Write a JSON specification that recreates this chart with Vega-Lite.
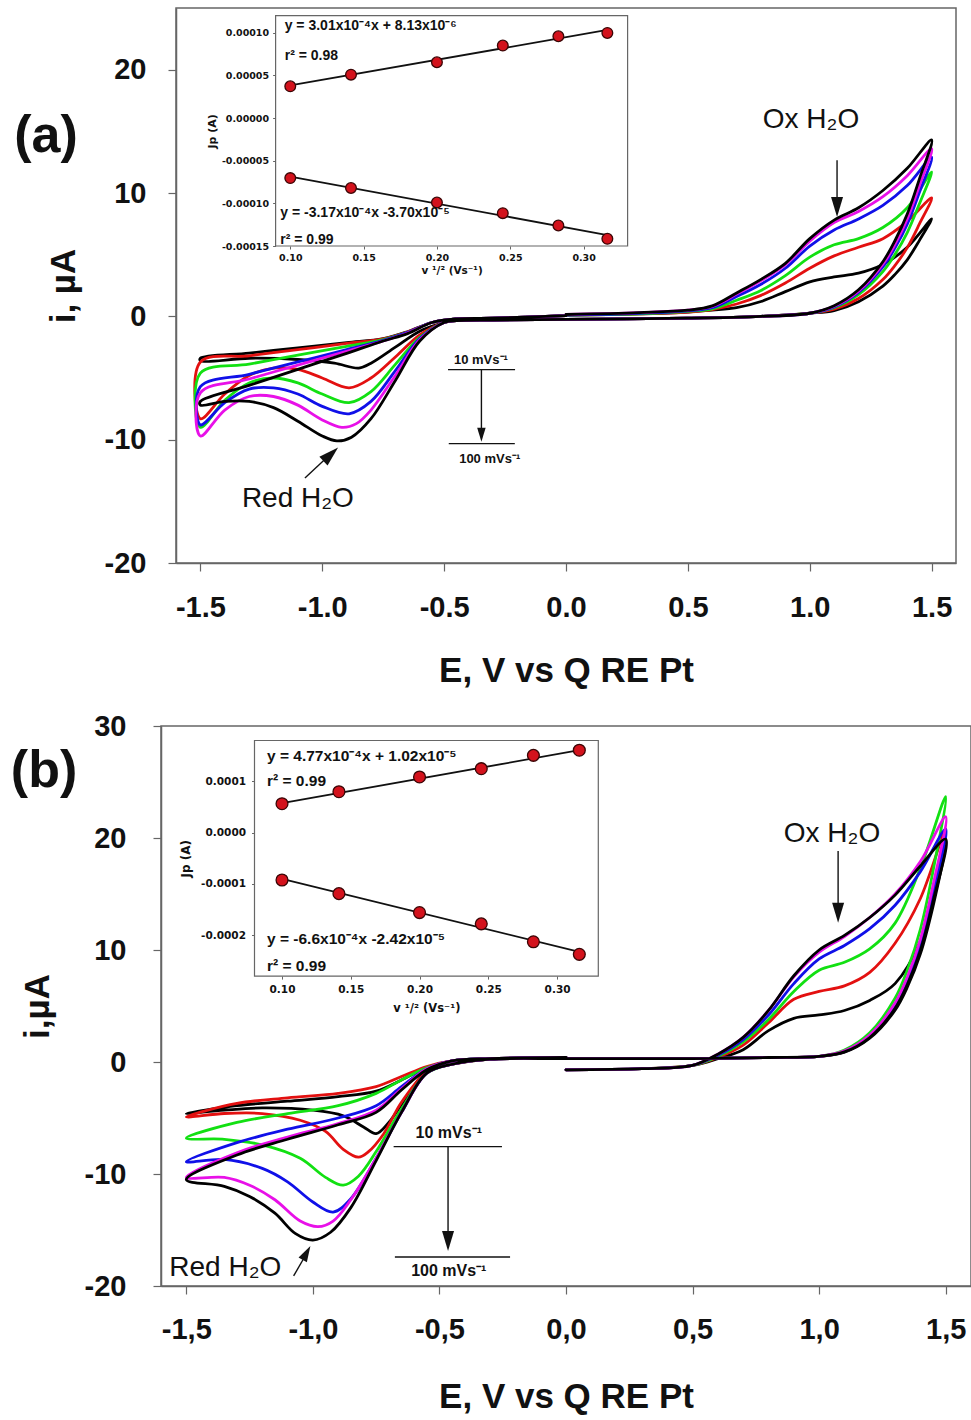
{
"$schema": "https://vega.github.io/schema/vega-lite/v6.json",
"background": "white",
"padding": {"left": 10, "top": 7, "right": 0, "bottom": 0},
"spacing": 163,
"center": true,
"bounds": "flush",
"config": {
  "view": {"stroke": "#666", "strokeWidth": 1.5},
  "axis": {"grid": false, "domainColor": "#666", "tickColor": "#666", "labelColor": "#111", "titleColor": "#111", "labelFlush": false, "labelOverlap": false, "labelBound": false}
},
"datasets": {
"cvA": [
{"s":"10","E":0,"i":0.1},{"s":"10","E":0.3,"i":0.2},{"s":"10","E":0.5,"i":0.35},{"s":"10","E":0.6,"i":0.5},{"s":"10","E":0.7,"i":0.7},{"s":"10","E":0.8,"i":1.2},{"s":"10","E":0.9,"i":2.0},{"s":"10","E":1.0,"i":2.8},{"s":"10","E":1.1,"i":3.2},{"s":"10","E":1.2,"i":3.5},{"s":"10","E":1.3,"i":4.2},{"s":"10","E":1.4,"i":5.6},{"s":"10","E":1.5,"i":7.9},
{"s":"10","E":1.45,"i":6.16},{"s":"10","E":1.4,"i":4.58},{"s":"10","E":1.35,"i":3.4},{"s":"10","E":1.3,"i":2.45},{"s":"10","E":1.2,"i":1.19},{"s":"10","E":1.1,"i":0.47},{"s":"10","E":1.0,"i":0.25},{"s":"10","E":0.8,"i":0},{"s":"10","E":0.5,"i":-0.15},{"s":"10","E":0,"i":-0.25},{"s":"10","E":-0.3,"i":-0.3},{"s":"10","E":-0.45,"i":-0.35},
{"s":"10","E":-0.5,"i":-0.5},{"s":"10","E":-0.6,"i":-1.2},{"s":"10","E":-0.7,"i":-2.5},{"s":"10","E":-0.8,"i":-3.8},{"s":"10","E":-0.85,"i":-4.2},{"s":"10","E":-0.95,"i":-3.8},{"s":"10","E":-1.1,"i":-3.5},{"s":"10","E":-1.3,"i":-3.4},{"s":"10","E":-1.5,"i":-3.6},
{"s":"10","E":-1.5,"i":-3.4},{"s":"10","E":-1.3,"i":-2.98},{"s":"10","E":-1.1,"i":-2.55},{"s":"10","E":-0.9,"i":-2.13},{"s":"10","E":-0.75,"i":-1.81},{"s":"10","E":-0.65,"i":-1.25},{"s":"10","E":-0.55,"i":-0.5},{"s":"10","E":-0.45,"i":-0.2},{"s":"10","E":-0.3,"i":-0.15},{"s":"10","E":0,"i":0.05},
{"s":"20","E":0,"i":0.1},{"s":"20","E":0.3,"i":0.2},{"s":"20","E":0.5,"i":0.35},{"s":"20","E":0.6,"i":0.55},{"s":"20","E":0.7,"i":1.0},{"s":"20","E":0.8,"i":1.7},{"s":"20","E":0.9,"i":2.7},{"s":"20","E":1.0,"i":3.9},{"s":"20","E":1.1,"i":4.9},{"s":"20","E":1.2,"i":5.6},{"s":"20","E":1.3,"i":6.3},{"s":"20","E":1.4,"i":7.7},{"s":"20","E":1.5,"i":9.6},
{"s":"20","E":1.45,"i":7.49},{"s":"20","E":1.4,"i":5.57},{"s":"20","E":1.35,"i":4.13},{"s":"20","E":1.3,"i":2.98},{"s":"20","E":1.2,"i":1.44},{"s":"20","E":1.1,"i":0.58},{"s":"20","E":1.0,"i":0.25},{"s":"20","E":0.8,"i":0},{"s":"20","E":0.5,"i":-0.15},{"s":"20","E":0,"i":-0.25},{"s":"20","E":-0.3,"i":-0.3},{"s":"20","E":-0.45,"i":-0.35},
{"s":"20","E":-0.5,"i":-0.5},{"s":"20","E":-0.6,"i":-1.5},{"s":"20","E":-0.7,"i":-3.3},{"s":"20","E":-0.8,"i":-5.0},{"s":"20","E":-0.89,"i":-5.8},{"s":"20","E":-1.0,"i":-5.0},{"s":"20","E":-1.1,"i":-4.3},{"s":"20","E":-1.2,"i":-4.2},{"s":"20","E":-1.3,"i":-4.8},{"s":"20","E":-1.4,"i":-6.3},{"s":"20","E":-1.5,"i":-8.3},
{"s":"20","E":-1.5,"i":-3.7},{"s":"20","E":-1.3,"i":-3.2},{"s":"20","E":-1.1,"i":-2.7},{"s":"20","E":-0.9,"i":-2.2},{"s":"20","E":-0.75,"i":-1.83},{"s":"20","E":-0.65,"i":-1.25},{"s":"20","E":-0.55,"i":-0.5},{"s":"20","E":-0.45,"i":-0.2},{"s":"20","E":-0.3,"i":-0.15},{"s":"20","E":0,"i":0.05},
{"s":"40","E":0,"i":0.1},{"s":"40","E":0.3,"i":0.2},{"s":"40","E":0.5,"i":0.4},{"s":"40","E":0.6,"i":0.6},{"s":"40","E":0.7,"i":1.3},{"s":"40","E":0.8,"i":2.1},{"s":"40","E":0.9,"i":3.3},{"s":"40","E":1.0,"i":4.8},{"s":"40","E":1.1,"i":5.8},{"s":"40","E":1.2,"i":6.3},{"s":"40","E":1.3,"i":7.2},{"s":"40","E":1.4,"i":8.8},{"s":"40","E":1.5,"i":11.7},
{"s":"40","E":1.45,"i":9.13},{"s":"40","E":1.4,"i":6.79},{"s":"40","E":1.35,"i":5.03},{"s":"40","E":1.3,"i":3.63},{"s":"40","E":1.2,"i":1.76},{"s":"40","E":1.1,"i":0.7},{"s":"40","E":1.0,"i":0.25},{"s":"40","E":0.8,"i":0},{"s":"40","E":0.5,"i":-0.15},{"s":"40","E":0,"i":-0.25},{"s":"40","E":-0.3,"i":-0.3},{"s":"40","E":-0.45,"i":-0.35},
{"s":"40","E":-0.5,"i":-0.5},{"s":"40","E":-0.6,"i":-1.7},{"s":"40","E":-0.7,"i":-3.9},{"s":"40","E":-0.8,"i":-6.1},{"s":"40","E":-0.89,"i":-7.0},{"s":"40","E":-1.0,"i":-6.3},{"s":"40","E":-1.1,"i":-5.4},{"s":"40","E":-1.2,"i":-5.0},{"s":"40","E":-1.3,"i":-5.4},{"s":"40","E":-1.4,"i":-6.8},{"s":"40","E":-1.5,"i":-9.0},
{"s":"40","E":-1.5,"i":-4.6},{"s":"40","E":-1.3,"i":-3.88},{"s":"40","E":-1.1,"i":-3.15},{"s":"40","E":-0.9,"i":-2.43},{"s":"40","E":-0.75,"i":-1.88},{"s":"40","E":-0.65,"i":-1.3},{"s":"40","E":-0.55,"i":-0.5},{"s":"40","E":-0.45,"i":-0.2},{"s":"40","E":-0.3,"i":-0.15},{"s":"40","E":0,"i":0.05},
{"s":"60","E":0,"i":0.1},{"s":"60","E":0.3,"i":0.25},{"s":"60","E":0.5,"i":0.45},{"s":"60","E":0.6,"i":0.7},{"s":"60","E":0.7,"i":1.6},{"s":"60","E":0.8,"i":2.6},{"s":"60","E":0.9,"i":3.9},{"s":"60","E":1.0,"i":5.7},{"s":"60","E":1.1,"i":7.0},{"s":"60","E":1.2,"i":7.9},{"s":"60","E":1.3,"i":9.0},{"s":"60","E":1.4,"i":10.6},{"s":"60","E":1.5,"i":12.9},
{"s":"60","E":1.45,"i":10.06},{"s":"60","E":1.4,"i":7.48},{"s":"60","E":1.35,"i":5.55},{"s":"60","E":1.3,"i":4.0},{"s":"60","E":1.2,"i":1.94},{"s":"60","E":1.1,"i":0.77},{"s":"60","E":1.0,"i":0.25},{"s":"60","E":0.8,"i":0},{"s":"60","E":0.5,"i":-0.15},{"s":"60","E":0,"i":-0.25},{"s":"60","E":-0.3,"i":-0.3},{"s":"60","E":-0.45,"i":-0.35},
{"s":"60","E":-0.5,"i":-0.5},{"s":"60","E":-0.6,"i":-1.8},{"s":"60","E":-0.7,"i":-4.4},{"s":"60","E":-0.8,"i":-6.9},{"s":"60","E":-0.89,"i":-7.9},{"s":"60","E":-1.0,"i":-7.3},{"s":"60","E":-1.1,"i":-6.3},{"s":"60","E":-1.2,"i":-5.8},{"s":"60","E":-1.3,"i":-5.9},{"s":"60","E":-1.4,"i":-7.0},{"s":"60","E":-1.5,"i":-8.8},
{"s":"60","E":-1.5,"i":-5.7},{"s":"60","E":-1.3,"i":-4.7},{"s":"60","E":-1.1,"i":-3.7},{"s":"60","E":-0.9,"i":-2.7},{"s":"60","E":-0.75,"i":-1.95},{"s":"60","E":-0.65,"i":-1.3},{"s":"60","E":-0.55,"i":-0.5},{"s":"60","E":-0.45,"i":-0.2},{"s":"60","E":-0.3,"i":-0.15},{"s":"60","E":0,"i":0.05},
{"s":"80","E":0,"i":0.15},{"s":"80","E":0.3,"i":0.3},{"s":"80","E":0.5,"i":0.5},{"s":"80","E":0.6,"i":0.8},{"s":"80","E":0.7,"i":1.8},{"s":"80","E":0.8,"i":2.9},{"s":"80","E":0.9,"i":4.2},{"s":"80","E":1.0,"i":6.1},{"s":"80","E":1.1,"i":7.6},{"s":"80","E":1.2,"i":8.5},{"s":"80","E":1.3,"i":9.7},{"s":"80","E":1.4,"i":11.4},{"s":"80","E":1.5,"i":13.6},
{"s":"80","E":1.45,"i":10.61},{"s":"80","E":1.4,"i":7.89},{"s":"80","E":1.35,"i":5.85},{"s":"80","E":1.3,"i":4.22},{"s":"80","E":1.2,"i":2.04},{"s":"80","E":1.1,"i":0.82},{"s":"80","E":1.0,"i":0.25},{"s":"80","E":0.8,"i":0},{"s":"80","E":0.5,"i":-0.15},{"s":"80","E":0,"i":-0.25},{"s":"80","E":-0.3,"i":-0.3},{"s":"80","E":-0.45,"i":-0.35},
{"s":"80","E":-0.5,"i":-0.5},{"s":"80","E":-0.6,"i":-1.9},{"s":"80","E":-0.7,"i":-4.8},{"s":"80","E":-0.8,"i":-7.6},{"s":"80","E":-0.86,"i":-8.7},{"s":"80","E":-0.92,"i":-9.0},{"s":"80","E":-1.0,"i":-8.4},{"s":"80","E":-1.1,"i":-7.2},{"s":"80","E":-1.2,"i":-6.5},{"s":"80","E":-1.3,"i":-6.5},{"s":"80","E":-1.4,"i":-7.6},{"s":"80","E":-1.5,"i":-9.7},
{"s":"80","E":-1.5,"i":-6.2},{"s":"80","E":-1.3,"i":-5.08},{"s":"80","E":-1.1,"i":-3.95},{"s":"80","E":-0.9,"i":-2.83},{"s":"80","E":-0.75,"i":-2.0},{"s":"80","E":-0.65,"i":-1.35},{"s":"80","E":-0.55,"i":-0.5},{"s":"80","E":-0.45,"i":-0.2},{"s":"80","E":-0.3,"i":-0.15},{"s":"80","E":0,"i":0.05},
{"s":"100","E":0,"i":0.15},{"s":"100","E":0.3,"i":0.3},{"s":"100","E":0.5,"i":0.5},{"s":"100","E":0.6,"i":0.85},{"s":"100","E":0.7,"i":1.9},{"s":"100","E":0.8,"i":3.0},{"s":"100","E":0.9,"i":4.3},{"s":"100","E":1.0,"i":6.3},{"s":"100","E":1.1,"i":7.8},{"s":"100","E":1.2,"i":8.8},{"s":"100","E":1.3,"i":10.2},{"s":"100","E":1.4,"i":12.0},{"s":"100","E":1.5,"i":14.3},
{"s":"100","E":1.45,"i":11.15},{"s":"100","E":1.4,"i":8.29},{"s":"100","E":1.35,"i":6.15},{"s":"100","E":1.3,"i":4.43},{"s":"100","E":1.2,"i":2.15},{"s":"100","E":1.1,"i":0.86},{"s":"100","E":1.0,"i":0.25},{"s":"100","E":0.8,"i":0},{"s":"100","E":0.5,"i":-0.15},{"s":"100","E":0,"i":-0.25},{"s":"100","E":-0.3,"i":-0.3},{"s":"100","E":-0.45,"i":-0.35},
{"s":"100","E":-0.5,"i":-0.5},{"s":"100","E":-0.6,"i":-2.0},{"s":"100","E":-0.7,"i":-5.2},{"s":"100","E":-0.8,"i":-8.3},{"s":"100","E":-0.88,"i":-9.8},{"s":"100","E":-0.94,"i":-10.1},{"s":"100","E":-1.0,"i":-9.7},{"s":"100","E":-1.1,"i":-8.5},{"s":"100","E":-1.2,"i":-7.4},{"s":"100","E":-1.3,"i":-6.9},{"s":"100","E":-1.4,"i":-6.9},{"s":"100","E":-1.5,"i":-7.2},
{"s":"100","E":-1.5,"i":-6.9},{"s":"100","E":-1.3,"i":-5.6},{"s":"100","E":-1.1,"i":-4.3},{"s":"100","E":-0.9,"i":-3.0},{"s":"100","E":-0.75,"i":-2.0},{"s":"100","E":-0.65,"i":-1.4},{"s":"100","E":-0.55,"i":-0.5},{"s":"100","E":-0.45,"i":-0.2},{"s":"100","E":-0.3,"i":-0.15},{"s":"100","E":0,"i":0.05}
],
"cvB": [
{"s":"10","E":0,"i":-0.7},{"s":"10","E":0.3,"i":-0.6},{"s":"10","E":0.5,"i":-0.3},{"s":"10","E":0.6,"i":0.3},{"s":"10","E":0.7,"i":1.1},{"s":"10","E":0.8,"i":2.8},{"s":"10","E":0.9,"i":3.9},{"s":"10","E":1.0,"i":4.2},{"s":"10","E":1.1,"i":4.6},{"s":"10","E":1.2,"i":5.5},{"s":"10","E":1.3,"i":7.0},{"s":"10","E":1.4,"i":10.8},{"s":"10","E":1.5,"i":19.3},
{"s":"10","E":1.45,"i":13.9},{"s":"10","E":1.4,"i":9.65},{"s":"10","E":1.35,"i":6.76},{"s":"10","E":1.3,"i":4.63},{"s":"10","E":1.2,"i":2.12},{"s":"10","E":1.1,"i":0.87},{"s":"10","E":1.0,"i":0.5},{"s":"10","E":0.8,"i":0.4},{"s":"10","E":0.5,"i":0.3},{"s":"10","E":0,"i":0.3},{"s":"10","E":-0.3,"i":0.25},{"s":"10","E":-0.45,"i":-0.2},
{"s":"10","E":-0.55,"i":-0.8},{"s":"10","E":-0.62,"i":-2.8},{"s":"10","E":-0.7,"i":-5.4},{"s":"10","E":-0.75,"i":-6.4},{"s":"10","E":-0.8,"i":-5.8},{"s":"10","E":-0.88,"i":-4.8},{"s":"10","E":-1.0,"i":-4.3},{"s":"10","E":-1.2,"i":-4.1},{"s":"10","E":-1.35,"i":-4.3},{"s":"10","E":-1.5,"i":-4.6},
{"s":"10","E":-1.3,"i":-3.9},{"s":"10","E":-1.1,"i":-3.5},{"s":"10","E":-0.9,"i":-3.1},{"s":"10","E":-0.75,"i":-2.6},{"s":"10","E":-0.65,"i":-1.6},{"s":"10","E":-0.55,"i":-0.5},{"s":"10","E":-0.45,"i":0.1},{"s":"10","E":-0.3,"i":0.3},{"s":"10","E":0,"i":0.4},
{"s":"20","E":0,"i":-0.7},{"s":"20","E":0.3,"i":-0.6},{"s":"20","E":0.5,"i":-0.3},{"s":"20","E":0.6,"i":0.4},{"s":"20","E":0.7,"i":1.5},{"s":"20","E":0.8,"i":3.5},{"s":"20","E":0.9,"i":5.6},{"s":"20","E":1.0,"i":6.3},{"s":"20","E":1.1,"i":6.8},{"s":"20","E":1.2,"i":8.0},{"s":"20","E":1.3,"i":10.6},{"s":"20","E":1.4,"i":14.6},{"s":"20","E":1.5,"i":20.8},
{"s":"20","E":1.45,"i":14.98},{"s":"20","E":1.4,"i":10.4},{"s":"20","E":1.35,"i":7.28},{"s":"20","E":1.3,"i":4.99},{"s":"20","E":1.2,"i":2.29},{"s":"20","E":1.1,"i":0.94},{"s":"20","E":1.0,"i":0.5},{"s":"20","E":0.8,"i":0.4},{"s":"20","E":0.5,"i":0.3},{"s":"20","E":0,"i":0.3},{"s":"20","E":-0.3,"i":0.25},{"s":"20","E":-0.45,"i":-0.2},
{"s":"20","E":-0.55,"i":-0.9},{"s":"20","E":-0.65,"i":-3.6},{"s":"20","E":-0.72,"i":-6.4},{"s":"20","E":-0.78,"i":-8.0},{"s":"20","E":-0.82,"i":-8.5},{"s":"20","E":-0.88,"i":-7.8},{"s":"20","E":-0.95,"i":-6.2},{"s":"20","E":-1.05,"i":-5.2},{"s":"20","E":-1.2,"i":-4.6},{"s":"20","E":-1.35,"i":-4.6},{"s":"20","E":-1.5,"i":-4.9},
{"s":"20","E":-1.3,"i":-3.7},{"s":"20","E":-1.1,"i":-3.2},{"s":"20","E":-0.9,"i":-2.8},{"s":"20","E":-0.75,"i":-2.2},{"s":"20","E":-0.65,"i":-1.3},{"s":"20","E":-0.55,"i":-0.4},{"s":"20","E":-0.45,"i":0.1},{"s":"20","E":-0.3,"i":0.3},{"s":"20","E":0,"i":0.4},
{"s":"40","E":0,"i":-0.7},{"s":"40","E":0.3,"i":-0.6},{"s":"40","E":0.5,"i":-0.3},{"s":"40","E":0.6,"i":0.5},{"s":"40","E":0.7,"i":1.8},{"s":"40","E":0.8,"i":3.8},{"s":"40","E":0.9,"i":6.3},{"s":"40","E":1.0,"i":8.2},{"s":"40","E":1.1,"i":8.9},{"s":"40","E":1.2,"i":10.1},{"s":"40","E":1.3,"i":12.4},{"s":"40","E":1.4,"i":17.3},{"s":"40","E":1.5,"i":23.7},
{"s":"40","E":1.45,"i":17.06},{"s":"40","E":1.4,"i":11.85},{"s":"40","E":1.35,"i":8.3},{"s":"40","E":1.3,"i":5.69},{"s":"40","E":1.2,"i":2.61},{"s":"40","E":1.1,"i":1.07},{"s":"40","E":1.0,"i":0.5},{"s":"40","E":0.8,"i":0.4},{"s":"40","E":0.5,"i":0.3},{"s":"40","E":0,"i":0.3},{"s":"40","E":-0.3,"i":0.25},{"s":"40","E":-0.45,"i":-0.2},
{"s":"40","E":-0.55,"i":-1.0},{"s":"40","E":-0.65,"i":-4.2},{"s":"40","E":-0.75,"i":-8.0},{"s":"40","E":-0.82,"i":-10.2},{"s":"40","E":-0.88,"i":-11.0},{"s":"40","E":-0.95,"i":-10.3},{"s":"40","E":-1.05,"i":-8.6},{"s":"40","E":-1.2,"i":-7.4},{"s":"40","E":-1.35,"i":-6.9},{"s":"40","E":-1.5,"i":-6.8},
{"s":"40","E":-1.3,"i":-5.4},{"s":"40","E":-1.1,"i":-4.6},{"s":"40","E":-0.9,"i":-3.9},{"s":"40","E":-0.75,"i":-2.8},{"s":"40","E":-0.65,"i":-1.6},{"s":"40","E":-0.55,"i":-0.5},{"s":"40","E":-0.45,"i":0.1},{"s":"40","E":-0.3,"i":0.3},{"s":"40","E":0,"i":0.4},
{"s":"60","E":0,"i":-0.7},{"s":"60","E":0.3,"i":-0.6},{"s":"60","E":0.5,"i":-0.3},{"s":"60","E":0.6,"i":0.6},{"s":"60","E":0.7,"i":2.0},{"s":"60","E":0.8,"i":4.2},{"s":"60","E":0.9,"i":7.0},{"s":"60","E":1.0,"i":9.2},{"s":"60","E":1.1,"i":10.4},{"s":"60","E":1.2,"i":11.9},{"s":"60","E":1.3,"i":14.0},{"s":"60","E":1.4,"i":17.0},{"s":"60","E":1.5,"i":20.8},
{"s":"60","E":1.45,"i":14.98},{"s":"60","E":1.4,"i":10.4},{"s":"60","E":1.35,"i":7.28},{"s":"60","E":1.3,"i":4.99},{"s":"60","E":1.2,"i":2.29},{"s":"60","E":1.1,"i":0.94},{"s":"60","E":1.0,"i":0.5},{"s":"60","E":0.8,"i":0.4},{"s":"60","E":0.5,"i":0.3},{"s":"60","E":0,"i":0.3},{"s":"60","E":-0.3,"i":0.25},{"s":"60","E":-0.45,"i":-0.2},
{"s":"60","E":-0.55,"i":-1.0},{"s":"60","E":-0.65,"i":-4.5},{"s":"60","E":-0.75,"i":-8.6},{"s":"60","E":-0.85,"i":-12.2},{"s":"60","E":-0.92,"i":-13.4},{"s":"60","E":-1.0,"i":-12.5},{"s":"60","E":-1.1,"i":-10.7},{"s":"60","E":-1.2,"i":-9.5},{"s":"60","E":-1.35,"i":-8.7},{"s":"60","E":-1.5,"i":-8.9},
{"s":"60","E":-1.3,"i":-7.2},{"s":"60","E":-1.1,"i":-6.0},{"s":"60","E":-0.9,"i":-5.0},{"s":"60","E":-0.75,"i":-3.9},{"s":"60","E":-0.65,"i":-2.2},{"s":"60","E":-0.55,"i":-0.6},{"s":"60","E":-0.45,"i":0.1},{"s":"60","E":-0.3,"i":0.3},{"s":"60","E":0,"i":0.4},
{"s":"80","E":0,"i":-0.7},{"s":"80","E":0.3,"i":-0.6},{"s":"80","E":0.5,"i":-0.3},{"s":"80","E":0.6,"i":0.7},{"s":"80","E":0.7,"i":2.2},{"s":"80","E":0.8,"i":4.6},{"s":"80","E":0.9,"i":7.6},{"s":"80","E":1.0,"i":9.8},{"s":"80","E":1.1,"i":11.2},{"s":"80","E":1.2,"i":12.9},{"s":"80","E":1.3,"i":15.0},{"s":"80","E":1.4,"i":17.9},{"s":"80","E":1.5,"i":21.9},
{"s":"80","E":1.45,"i":15.77},{"s":"80","E":1.4,"i":10.95},{"s":"80","E":1.35,"i":7.67},{"s":"80","E":1.3,"i":5.26},{"s":"80","E":1.2,"i":2.41},{"s":"80","E":1.1,"i":0.99},{"s":"80","E":1.0,"i":0.5},{"s":"80","E":0.8,"i":0.4},{"s":"80","E":0.5,"i":0.3},{"s":"80","E":0,"i":0.3},{"s":"80","E":-0.3,"i":0.25},{"s":"80","E":-0.45,"i":-0.2},
{"s":"80","E":-0.55,"i":-1.0},{"s":"80","E":-0.65,"i":-4.5},{"s":"80","E":-0.75,"i":-8.6},{"s":"80","E":-0.85,"i":-12.3},{"s":"80","E":-0.92,"i":-14.2},{"s":"80","E":-0.98,"i":-14.7},{"s":"80","E":-1.05,"i":-14.2},{"s":"80","E":-1.15,"i":-12.3},{"s":"80","E":-1.25,"i":-11.0},{"s":"80","E":-1.35,"i":-10.3},{"s":"80","E":-1.5,"i":-10.3},
{"s":"80","E":-1.3,"i":-8.1},{"s":"80","E":-1.1,"i":-6.7},{"s":"80","E":-0.9,"i":-5.5},{"s":"80","E":-0.75,"i":-4.3},{"s":"80","E":-0.65,"i":-2.4},{"s":"80","E":-0.55,"i":-0.6},{"s":"80","E":-0.45,"i":0.1},{"s":"80","E":-0.3,"i":0.3},{"s":"80","E":0,"i":0.4},
{"s":"100","E":0,"i":-0.7},{"s":"100","E":0.3,"i":-0.6},{"s":"100","E":0.5,"i":-0.3},{"s":"100","E":0.6,"i":0.7},{"s":"100","E":0.7,"i":2.2},{"s":"100","E":0.8,"i":4.6},{"s":"100","E":0.9,"i":7.7},{"s":"100","E":1.0,"i":10.0},{"s":"100","E":1.1,"i":11.3},{"s":"100","E":1.2,"i":12.9},{"s":"100","E":1.3,"i":14.9},{"s":"100","E":1.4,"i":17.5},{"s":"100","E":1.5,"i":19.9},
{"s":"100","E":1.45,"i":14.33},{"s":"100","E":1.4,"i":9.95},{"s":"100","E":1.35,"i":6.97},{"s":"100","E":1.3,"i":4.78},{"s":"100","E":1.2,"i":2.19},{"s":"100","E":1.1,"i":0.9},{"s":"100","E":1.0,"i":0.5},{"s":"100","E":0.8,"i":0.4},{"s":"100","E":0.5,"i":0.3},{"s":"100","E":0,"i":0.3},{"s":"100","E":-0.3,"i":0.25},{"s":"100","E":-0.45,"i":-0.2},
{"s":"100","E":-0.55,"i":-1.0},{"s":"100","E":-0.65,"i":-4.5},{"s":"100","E":-0.75,"i":-8.8},{"s":"100","E":-0.85,"i":-13.0},{"s":"100","E":-0.93,"i":-15.2},{"s":"100","E":-1.0,"i":-15.9},{"s":"100","E":-1.07,"i":-15.3},{"s":"100","E":-1.15,"i":-13.5},{"s":"100","E":-1.25,"i":-12.0},{"s":"100","E":-1.35,"i":-11.1},{"s":"100","E":-1.5,"i":-10.5},
{"s":"100","E":-1.3,"i":-8.3},{"s":"100","E":-1.1,"i":-6.9},{"s":"100","E":-0.9,"i":-5.6},{"s":"100","E":-0.75,"i":-4.5},{"s":"100","E":-0.65,"i":-2.5},{"s":"100","E":-0.55,"i":-0.7},{"s":"100","E":-0.45,"i":0.1},{"s":"100","E":-0.3,"i":0.3},{"s":"100","E":0,"i":0.4}
],
"jpA": [
{"g":"ox","v":0.1,"jp":0.0000372},{"g":"ox","v":0.1414,"jp":0.0000509},{"g":"ox","v":0.2,"jp":0.0000654},{"g":"ox","v":0.2449,"jp":0.000085},{"g":"ox","v":0.2828,"jp":0.0000959},{"g":"ox","v":0.3162,"jp":0.0000998},
{"g":"red","v":0.1,"jp":-0.0000704},{"g":"red","v":0.1414,"jp":-0.000082},{"g":"red","v":0.2,"jp":-0.000099},{"g":"red","v":0.2449,"jp":-0.0001115},{"g":"red","v":0.2828,"jp":-0.000126},{"g":"red","v":0.3162,"jp":-0.0001416}
],
"fitA": [
{"g":"ox","v":0.1,"jp":0.0000382},{"g":"ox","v":0.3162,"jp":0.0001033},
{"g":"red","v":0.1,"jp":-0.0000687},{"g":"red","v":0.3162,"jp":-0.0001372}
],
"jpB": [
{"g":"ox","v":0.1,"jp":0.0000566},{"g":"ox","v":0.1414,"jp":0.00008},{"g":"ox","v":0.2,"jp":0.0001088},{"g":"ox","v":0.2449,"jp":0.000125},{"g":"ox","v":0.2828,"jp":0.000151},{"g":"ox","v":0.3162,"jp":0.000161},
{"g":"red","v":0.1,"jp":-0.0000924},{"g":"red","v":0.1414,"jp":-0.000119},{"g":"red","v":0.2,"jp":-0.000156},{"g":"red","v":0.2449,"jp":-0.000178},{"g":"red","v":0.2828,"jp":-0.000213},{"g":"red","v":0.3162,"jp":-0.0002375}
],
"fitB": [
{"g":"ox","v":0.1,"jp":0.0000579},{"g":"ox","v":0.3162,"jp":0.000161},
{"g":"red","v":0.1,"jp":-0.0000902},{"g":"red","v":0.3162,"jp":-0.0002329}
]
},
"vconcat": [
{
  "width": 780, "height": 555,
  "layer": [
    {"layer": [
      {"data": {"name": "cvA"},
       "mark": {"type": "line", "interpolate": "catmull-rom", "strokeWidth": 2.8, "strokeCap": "round", "strokeJoin": "round"},
       "encoding": {
         "x": {"field": "E", "type": "quantitative", "scale": {"domain": [-1.6, 1.6], "nice": false, "zero": false},
               "axis": {"values": [-1.5, -1, -0.5, 0, 0.5, 1, 1.5], "labelExpr": "replace(format(datum.value, '.1f'), '−', '-')", "labelFont": "Liberation Sans", "labelFontSize": 29, "labelFontWeight": "bold", "labelPadding": 22, "tickSize": 8, "tickWidth": 1.2, "domainWidth": 1.5,
                        "title": "E, V vs Q RE Pt", "titleFont": "Liberation Sans", "titleFontSize": 35, "titleFontWeight": "bold", "titlePadding": 31}},
         "y": {"field": "i", "type": "quantitative", "scale": {"domain": [-20, 25], "nice": false, "zero": false},
               "axis": {"values": [-20, -10, 0, 10, 20], "labelExpr": "replace(format(datum.value, 'd'), '−', '-')", "labelFont": "Liberation Sans", "labelFontSize": 29, "labelFontWeight": "bold", "labelPadding": 22, "tickSize": 8, "tickWidth": 1.2, "domainWidth": 1.5,
                        "title": "i, µA", "titleFont": "Liberation Sans", "titleFontSize": 35, "titleFontWeight": "bold", "titlePadding": 23}},
         "color": {"field": "s", "type": "nominal", "scale": {"domain": ["10", "20", "40", "60", "80", "100"], "range": ["#000000", "#e31010", "#12e012", "#1010e8", "#e810e8", "#000000"]}, "legend": null},
         "order": {"value": null}
       }},
      {"data": {"values": [{"E": 1.112, "i": 12.65, "E2": 1.112, "i2": 9.3}, {"E": -1.071, "i": -13.1, "E2": -0.97, "i2": -11.25}, {"E": -0.484, "i": -4.32, "E2": -0.209, "i2": -4.32}, {"E": -0.347, "i": -4.32, "E2": -0.347, "i2": -9.2}, {"E": -0.481, "i": -10.32, "E2": -0.21, "i2": -10.32}]},
       "mark": {"type": "rule", "color": "#111", "strokeWidth": 1.4},
       "encoding": {"x": {"field": "E", "type": "quantitative"}, "y": {"field": "i", "type": "quantitative"}, "x2": {"field": "E2"}, "y2": {"field": "i2"}}},
      {"data": {"values": [{"E": 1.112, "i": 8.86}]},
       "mark": {"type": "point", "shape": "M-0.6,-1L0.6,-1L0,1Z", "filled": true, "color": "#111", "size": 400, "opacity": 1},
       "encoding": {"x": {"field": "E", "type": "quantitative"}, "y": {"field": "i", "type": "quantitative"}}},
      {"data": {"values": [{"E": -0.347, "i": -9.6}]},
       "mark": {"type": "point", "shape": "M-0.6,-1L0.6,-1L0,1Z", "filled": true, "color": "#111", "size": 200, "opacity": 1},
       "encoding": {"x": {"field": "E", "type": "quantitative"}, "y": {"field": "i", "type": "quantitative"}}},
      {"data": {"values": [{"E": -0.965, "i": -11.18}]},
       "mark": {"type": "point", "shape": "M-0.6,-1L0.6,-1L0,1Z", "filled": true, "color": "#111", "size": 400, "opacity": 1, "angle": 227},
       "encoding": {"x": {"field": "E", "type": "quantitative"}, "y": {"field": "i", "type": "quantitative"}}},
      {"data": {"values": [{"t": "Ox H₂O", "E": 1.005, "i": 15.9}, {"t": "Red H₂O", "E": -1.1, "i": -14.85}]},
       "mark": {"type": "text", "font": "Liberation Sans", "fontSize": 28, "align": "center", "baseline": "middle", "color": "#111"},
       "encoding": {"x": {"field": "E", "type": "quantitative"}, "y": {"field": "i", "type": "quantitative"}, "text": {"field": "t", "type": "nominal"}}},
      {"data": {"values": [{"t": "10 mVs⁻¹", "E": -0.349, "i": -3.5}, {"t": "100 mVs⁻¹", "E": -0.313, "i": -11.6}]},
       "mark": {"type": "text", "font": "Liberation Sans", "fontSize": 13, "fontWeight": "bold", "align": "center", "baseline": "middle", "color": "#111"},
       "encoding": {"x": {"field": "E", "type": "quantitative"}, "y": {"field": "i", "type": "quantitative"}, "text": {"field": "t", "type": "nominal"}}},
      {"data": {"values": [{"t": "(a)", "E": -2.133, "i": 14.6}]},
       "mark": {"type": "text", "font": "Liberation Sans", "fontSize": 52, "fontWeight": "bold", "align": "center", "baseline": "middle", "color": "#111"},
       "encoding": {"x": {"field": "E", "type": "quantitative"}, "y": {"field": "i", "type": "quantitative"}, "text": {"field": "t", "type": "nominal"}}}
    ]},
    {"layer": [
      {"data": {"values": [{}]},
       "mark": {"type": "rect", "fill": "white", "stroke": "#666", "strokeWidth": 1.2},
       "encoding": {
         "x": {"datum": 0.09, "type": "quantitative", "scale": {"domain": [0.09, 0.33], "range": [99.6, 451.6], "nice": false, "zero": false},
               "axis": {"orient": "bottom", "offset": -317, "values": [0.1, 0.15, 0.2, 0.25, 0.3], "format": ".2f", "domain": false, "tickSize": 3, "labelFont": "DejaVu Sans", "labelFontSize": 9.5, "labelFontWeight": "bold", "labelPadding": 3,
                        "title": "v ¹/² (Vs⁻¹)", "titleFont": "DejaVu Sans", "titleFontSize": 10.5, "titleFontWeight": "bold", "titlePadding": 4}},
         "x2": {"datum": 0.33},
         "y": {"datum": -0.00015, "type": "quantitative", "scale": {"domain": [-0.00015, 0.00012], "range": [238, 7.7], "nice": false, "zero": false},
               "axis": {"orient": "left", "offset": -99.6, "values": [-0.00015, -0.0001, -0.00005, 0, 0.00005, 0.0001], "labelExpr": "replace(format(datum.value, '.5f'), '−', '-')", "domain": false, "tickSize": 3, "labelFont": "DejaVu Sans", "labelFontSize": 9.5, "labelFontWeight": "bold", "labelPadding": 4,
                        "title": "Jp (A)", "titleFont": "DejaVu Sans", "titleFontSize": 11, "titleFontWeight": "bold", "titlePadding": 4}},
         "y2": {"datum": 0.00012}
       }},
      {"data": {"name": "fitA"},
       "mark": {"type": "line", "color": "#111", "strokeWidth": 1.8},
       "encoding": {"x": {"field": "v", "type": "quantitative"}, "y": {"field": "jp", "type": "quantitative"}, "detail": {"field": "g", "type": "nominal"}}},
      {"data": {"name": "jpA"},
       "mark": {"type": "circle", "size": 115, "fill": "#d3121c", "stroke": "#3a0505", "strokeWidth": 1.3, "opacity": 1},
       "encoding": {"x": {"field": "v", "type": "quantitative"}, "y": {"field": "jp", "type": "quantitative"}}},
      {"data": {"values": [{"t": "y = 3.01x10⁻⁴x + 8.13x10⁻⁶", "v": 0.0962, "jp": 0.0001076}, {"t": "r² = 0.98", "v": 0.0962, "jp": 0.0000724}, {"t": "y = -3.17x10⁻⁴x -3.70x10⁻⁵", "v": 0.0932, "jp": -0.0001115}, {"t": "r² = 0.99", "v": 0.0932, "jp": -0.0001427}]},
       "mark": {"type": "text", "font": "Liberation Sans", "fontSize": 14, "fontWeight": "bold", "align": "left", "baseline": "middle", "color": "#111"},
       "encoding": {"x": {"field": "v", "type": "quantitative"}, "y": {"field": "jp", "type": "quantitative"}, "text": {"field": "t", "type": "nominal"}}}
    ]}
  ],
  "resolve": {"scale": {"x": "independent", "y": "independent"}}
},
{
  "width": 810, "height": 560,
  "layer": [
    {"layer": [
      {"data": {"name": "cvB"},
       "mark": {"type": "line", "interpolate": "catmull-rom", "strokeWidth": 2.8, "strokeCap": "round", "strokeJoin": "round"},
       "encoding": {
         "x": {"field": "E", "type": "quantitative", "scale": {"domain": [-1.6, 1.6], "nice": false, "zero": false},
               "axis": {"values": [-1.5, -1, -0.5, 0, 0.5, 1, 1.5], "labelExpr": "replace(replace(format(datum.value, '.1f'), '.', ','), '−', '-')", "labelFont": "Liberation Sans", "labelFontSize": 29, "labelFontWeight": "bold", "labelPadding": 21, "tickSize": 8, "tickWidth": 1.2, "domainWidth": 1.5,
                        "title": "E, V vs Q RE Pt", "titleFont": "Liberation Sans", "titleFontSize": 35, "titleFontWeight": "bold", "titlePadding": 35}},
         "y": {"field": "i", "type": "quantitative", "scale": {"domain": [-20, 30], "nice": false, "zero": false},
               "axis": {"values": [-20, -10, 0, 10, 20, 30], "labelExpr": "replace(format(datum.value, 'd'), '−', '-')", "labelFont": "Liberation Sans", "labelFontSize": 29, "labelFontWeight": "bold", "labelPadding": 27, "tickSize": 8, "tickWidth": 1.2, "domainWidth": 1.5,
                        "title": "i,µA", "titleFont": "Liberation Sans", "titleFontSize": 35, "titleFontWeight": "bold", "titlePadding": 29}},
         "color": {"field": "s", "type": "nominal", "scale": {"domain": ["10", "20", "40", "60", "80", "100"], "range": ["#000000", "#e31010", "#12e012", "#1010e8", "#e810e8", "#000000"]}, "legend": null},
         "order": {"value": null}
       }},
      {"data": {"values": [{"E": 1.075, "i": 18.84, "E2": 1.075, "i2": 13.6}, {"E": -1.076, "i": -19.1, "E2": -1.03, "i2": -17.3}, {"E": -0.681, "i": -7.56, "E2": -0.253, "i2": -7.56}, {"E": -0.466, "i": -7.56, "E2": -0.466, "i2": -15.8}, {"E": -0.676, "i": -17.41, "E2": -0.221, "i2": -17.41}]},
       "mark": {"type": "rule", "color": "#111", "strokeWidth": 1.4},
       "encoding": {"x": {"field": "E", "type": "quantitative"}, "y": {"field": "i", "type": "quantitative"}, "x2": {"field": "E2"}, "y2": {"field": "i2"}}},
      {"data": {"values": [{"E": 1.075, "i": 13.33}, {"E": -0.466, "i": -15.98}]},
       "mark": {"type": "point", "shape": "M-0.6,-1L0.6,-1L0,1Z", "filled": true, "color": "#111", "size": 400, "opacity": 1},
       "encoding": {"x": {"field": "E", "type": "quantitative"}, "y": {"field": "i", "type": "quantitative"}}},
      {"data": {"values": [{"E": -1.025, "i": -17.05}]},
       "mark": {"type": "point", "shape": "M-0.6,-1L0.6,-1L0,1Z", "filled": true, "color": "#111", "size": 250, "opacity": 1, "angle": 209},
       "encoding": {"x": {"field": "E", "type": "quantitative"}, "y": {"field": "i", "type": "quantitative"}}},
      {"data": {"values": [{"t": "Ox H₂O", "E": 1.051, "i": 20.33}, {"t": "Red H₂O", "E": -1.346, "i": -18.37}]},
       "mark": {"type": "text", "font": "Liberation Sans", "fontSize": 28, "align": "center", "baseline": "middle", "color": "#111"},
       "encoding": {"x": {"field": "E", "type": "quantitative"}, "y": {"field": "i", "type": "quantitative"}, "text": {"field": "t", "type": "nominal"}}},
      {"data": {"values": [{"t": "10 mVs⁻¹", "E": -0.463, "i": -6.31}, {"t": "100 mVs⁻¹", "E": -0.463, "i": -18.66}]},
       "mark": {"type": "text", "font": "Liberation Sans", "fontSize": 16, "fontWeight": "bold", "align": "center", "baseline": "middle", "color": "#111"},
       "encoding": {"x": {"field": "E", "type": "quantitative"}, "y": {"field": "i", "type": "quantitative"}, "text": {"field": "t", "type": "nominal"}}},
      {"data": {"values": [{"t": "(b)", "E": -2.062, "i": 26.0}]},
       "mark": {"type": "text", "font": "Liberation Sans", "fontSize": 52, "fontWeight": "bold", "align": "center", "baseline": "middle", "color": "#111"},
       "encoding": {"x": {"field": "E", "type": "quantitative"}, "y": {"field": "i", "type": "quantitative"}, "text": {"field": "t", "type": "nominal"}}}
    ]},
    {"layer": [
      {"data": {"values": [{}]},
       "mark": {"type": "rect", "fill": "white", "stroke": "#666", "strokeWidth": 1.2},
       "encoding": {
         "x": {"datum": 0.08, "type": "quantitative", "scale": {"domain": [0.08, 0.33], "range": [93.5, 437.3], "nice": false, "zero": false},
               "axis": {"orient": "bottom", "offset": -309.9, "values": [0.1, 0.15, 0.2, 0.25, 0.3], "format": ".2f", "domain": false, "tickSize": 3, "labelFont": "DejaVu Sans", "labelFontSize": 10.5, "labelFontWeight": "bold", "labelPadding": 5,
                        "title": "v ¹/² (Vs⁻¹)", "titleFont": "DejaVu Sans", "titleFontSize": 11.5, "titleFontWeight": "bold", "titlePadding": 8}},
         "x2": {"datum": 0.33},
         "y": {"datum": -0.00028, "type": "quantitative", "scale": {"domain": [-0.00028, 0.00018], "range": [250.1, 14.5], "nice": false, "zero": false},
               "axis": {"orient": "left", "offset": -93.5, "values": [-0.0002, -0.0001, 0, 0.0001], "labelExpr": "replace(format(datum.value, '.4f'), '−', '-')", "domain": false, "tickSize": 3, "labelFont": "DejaVu Sans", "labelFontSize": 10.5, "labelFontWeight": "bold", "labelPadding": 6,
                        "title": "Jp (A)", "titleFont": "DejaVu Sans", "titleFontSize": 12, "titleFontWeight": "bold", "titlePadding": 8}},
         "y2": {"datum": 0.00018}
       }},
      {"data": {"name": "fitB"},
       "mark": {"type": "line", "color": "#111", "strokeWidth": 1.8},
       "encoding": {"x": {"field": "v", "type": "quantitative"}, "y": {"field": "jp", "type": "quantitative"}, "detail": {"field": "g", "type": "nominal"}}},
      {"data": {"name": "jpB"},
       "mark": {"type": "circle", "size": 140, "fill": "#d3121c", "stroke": "#3a0505", "strokeWidth": 1.3, "opacity": 1},
       "encoding": {"x": {"field": "v", "type": "quantitative"}, "y": {"field": "jp", "type": "quantitative"}}},
      {"data": {"values": [{"t": "y = 4.77x10⁻⁴x + 1.02x10⁻⁵", "v": 0.0891, "jp": 0.0001498}, {"t": "r² = 0.99", "v": 0.0891, "jp": 0.000101}, {"t": "y = -6.6x10⁻⁴x -2.42x10⁻⁵", "v": 0.0891, "jp": -0.0002082}, {"t": "r² = 0.99", "v": 0.0891, "jp": -0.00026}]},
       "mark": {"type": "text", "font": "Liberation Sans", "fontSize": 15.5, "fontWeight": "bold", "align": "left", "baseline": "middle", "color": "#111"},
       "encoding": {"x": {"field": "v", "type": "quantitative"}, "y": {"field": "jp", "type": "quantitative"}, "text": {"field": "t", "type": "nominal"}}}
    ]}
  ],
  "resolve": {"scale": {"x": "independent", "y": "independent"}}
}
]
}
